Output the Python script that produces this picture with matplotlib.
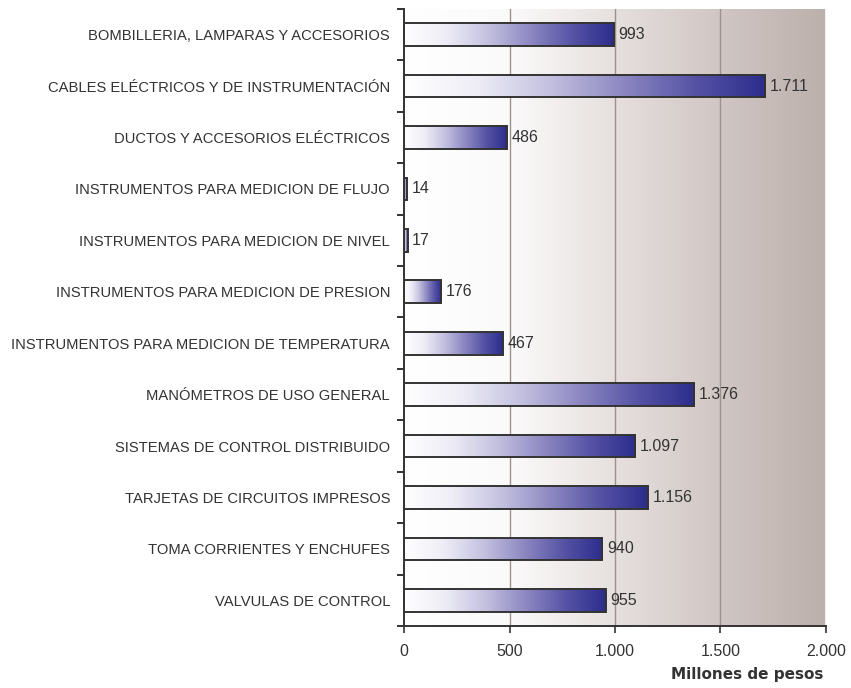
import numpy as np
import matplotlib
matplotlib.use("Agg")
import matplotlib.pyplot as plt
from matplotlib.colors import LinearSegmentedColormap
from matplotlib.ticker import FuncFormatter, FixedLocator

plt.rcParams['font.family'] = ['Liberation Sans', 'DejaVu Sans']

categories = [
    "BOMBILLERIA, LAMPARAS Y ACCESORIOS",
    "CABLES ELÉCTRICOS Y DE INSTRUMENTACIÓN",
    "DUCTOS Y ACCESORIOS ELÉCTRICOS",
    "INSTRUMENTOS PARA MEDICION DE FLUJO",
    "INSTRUMENTOS PARA MEDICION DE NIVEL",
    "INSTRUMENTOS PARA MEDICION DE PRESION",
    "INSTRUMENTOS PARA MEDICION DE TEMPERATURA",
    "MANÓMETROS DE USO GENERAL",
    "SISTEMAS DE CONTROL DISTRIBUIDO",
    "TARJETAS DE CIRCUITOS IMPRESOS",
    "TOMA CORRIENTES Y ENCHUFES",
    "VALVULAS DE CONTROL",
]
values = [993, 1711, 486, 14, 17, 176, 467, 1376, 1097, 1156, 940, 955]
xticks = [0, 500, 1000, 1500, 2000]
xlabel = "Millones de pesos"


def fmt(v):
    return f"{int(v):,}".replace(",", ".")


fig = plt.figure(figsize=(8.51, 6.88), dpi=100)
ax = fig.add_axes([404 / 851, 1 - 626 / 688, (826 - 404) / 851, (626 - 9) / 688])

n = len(categories)
ypos = np.arange(n)

# background gradient
bg_cmap = LinearSegmentedColormap.from_list("bg", ["#ffffff", "#fbfafa", "#e6e0de", "#d0c6c3", "#bcb0ac"])
grad = np.linspace(0, 1, 256).reshape(1, -1)
ax.imshow(grad, extent=[0, 2000, n - 0.5, -0.5], aspect="auto", cmap=bg_cmap, zorder=0,
          interpolation="bicubic")

for xv in xticks[1:-1]:
    ax.axvline(xv, color="#9d918e", lw=1.0, zorder=1)
ax.axvline(2000, color="#ffffff", lw=1.2, zorder=1)

bar_cmap = LinearSegmentedColormap.from_list(
    "bar", ["#ffffff", "#eeedf6", "#c4c1e0", "#8e89c2", "#5754a6", "#2c2d8c"])

h = 0.44
bars = ax.barh(ypos, values, height=h, facecolor="none", edgecolor="#333333", lw=1.4, zorder=4)
for b, v, y in zip(bars, values, ypos):
    im = ax.imshow(grad, extent=[0, v, y + h / 2, y - h / 2], aspect="auto", cmap=bar_cmap,
                   zorder=3, interpolation="bicubic")
    im.set_clip_path(b)
    ax.text(v + 22, y, fmt(v), va="center", ha="left", fontsize=11.5, color="#333333", zorder=5)

ax.set_aspect("auto")
ax.set_xlim(0, 2000)
ax.set_ylim(n - 0.5, -0.5)

ax.set_xticks(xticks)
ax.xaxis.set_major_formatter(FuncFormatter(lambda v, p: fmt(v)))
ax.set_yticks(ypos)
ax.set_yticklabels(categories)
ax.yaxis.set_minor_locator(FixedLocator(np.arange(-0.5, n, 1.0)))
ax.tick_params(axis="y", which="major", length=0, pad=10, labelsize=10.6, labelcolor="#333333")
ax.tick_params(axis="y", which="minor", length=5, width=1.4, color="#333333", direction="out")
ax.tick_params(axis="x", which="major", length=5, width=1.2, color="#333333", direction="out",
               labelsize=11.5, labelcolor="#333333", pad=8)

for s in ["top", "right"]:
    ax.spines[s].set_visible(False)
for s in ["left", "bottom"]:
    ax.spines[s].set_color("#333333")
    ax.spines[s].set_linewidth(1.4)
    ax.spines[s].set_zorder(6)

fig.text(823 / 851, 1 - 675 / 688, xlabel, ha="right", va="center", fontsize=11,
         fontweight="bold", color="#333333", family="DejaVu Sans")

fig.savefig("out.png", dpi=100)
